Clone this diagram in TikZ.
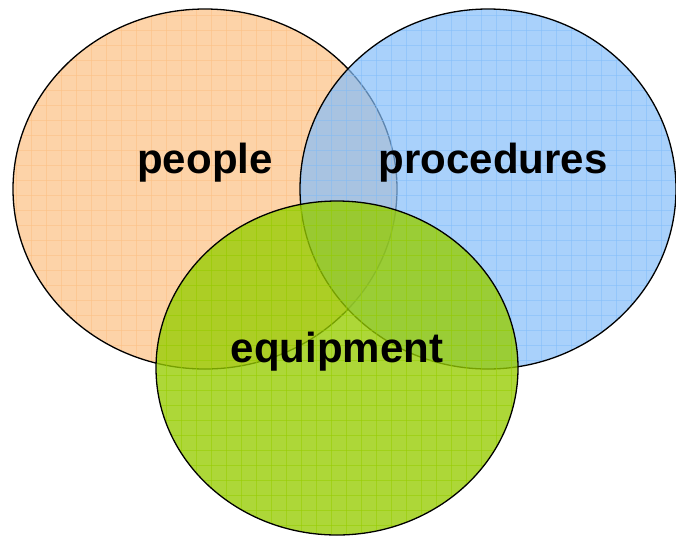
\documentclass[tikz,border=0pt]{standalone}
\usepackage{fontspec}
\setmainfont{Liberation Sans}
\definecolor{peoplecol}{RGB}{252,192,131}
\definecolor{procedurecol}{RGB}{132,189,249}
\definecolor{equipcol}{RGB}{150,204,0}
\begin{document}
\begin{tikzpicture}[x=1pt,y=-1pt]
  \tikzstyle{every node} = [font=\fontsize{42}{44}\selectfont\bfseries, anchor=base]
  \tikzstyle{gridline} = [line width=0.8pt, opacity=0.55]
  \useasboundingbox (0,0) rectangle (676,536);

  % the three sets, drawn in order
  \foreach \cx/\cy/\rx/\ry/\col/\op in {205/189/192/180/peoplecol/0.7,
      488/189/188/180/procedurecol/0.7, 337/368/181/167/equipcol/0.78} {
    \fill[\col, fill opacity=\op] (\cx,\cy) ellipse [x radius=\rx pt, y radius=\ry pt];
    \begin{scope}
      \clip (\cx,\cy) ellipse [x radius=\rx pt, y radius=\ry pt];
      \foreach \g in {0,15,...,675} \draw[gridline, \col] (\g+1.7,0) -- (\g+1.7,536);
      \foreach \g in {0,15,...,535} \draw[gridline, \col] (0,\g) -- (676,\g);
    \end{scope}
    \draw[line width=1.3pt] (\cx,\cy) ellipse [x radius=\rx pt, y radius=\ry pt];
  }

  \node (people) at (205,173) {people};
  \node (procedures) at (493,173) {procedures};
  \node (equipment) at (337,362) {equipment};
\end{tikzpicture}
\end{document}
